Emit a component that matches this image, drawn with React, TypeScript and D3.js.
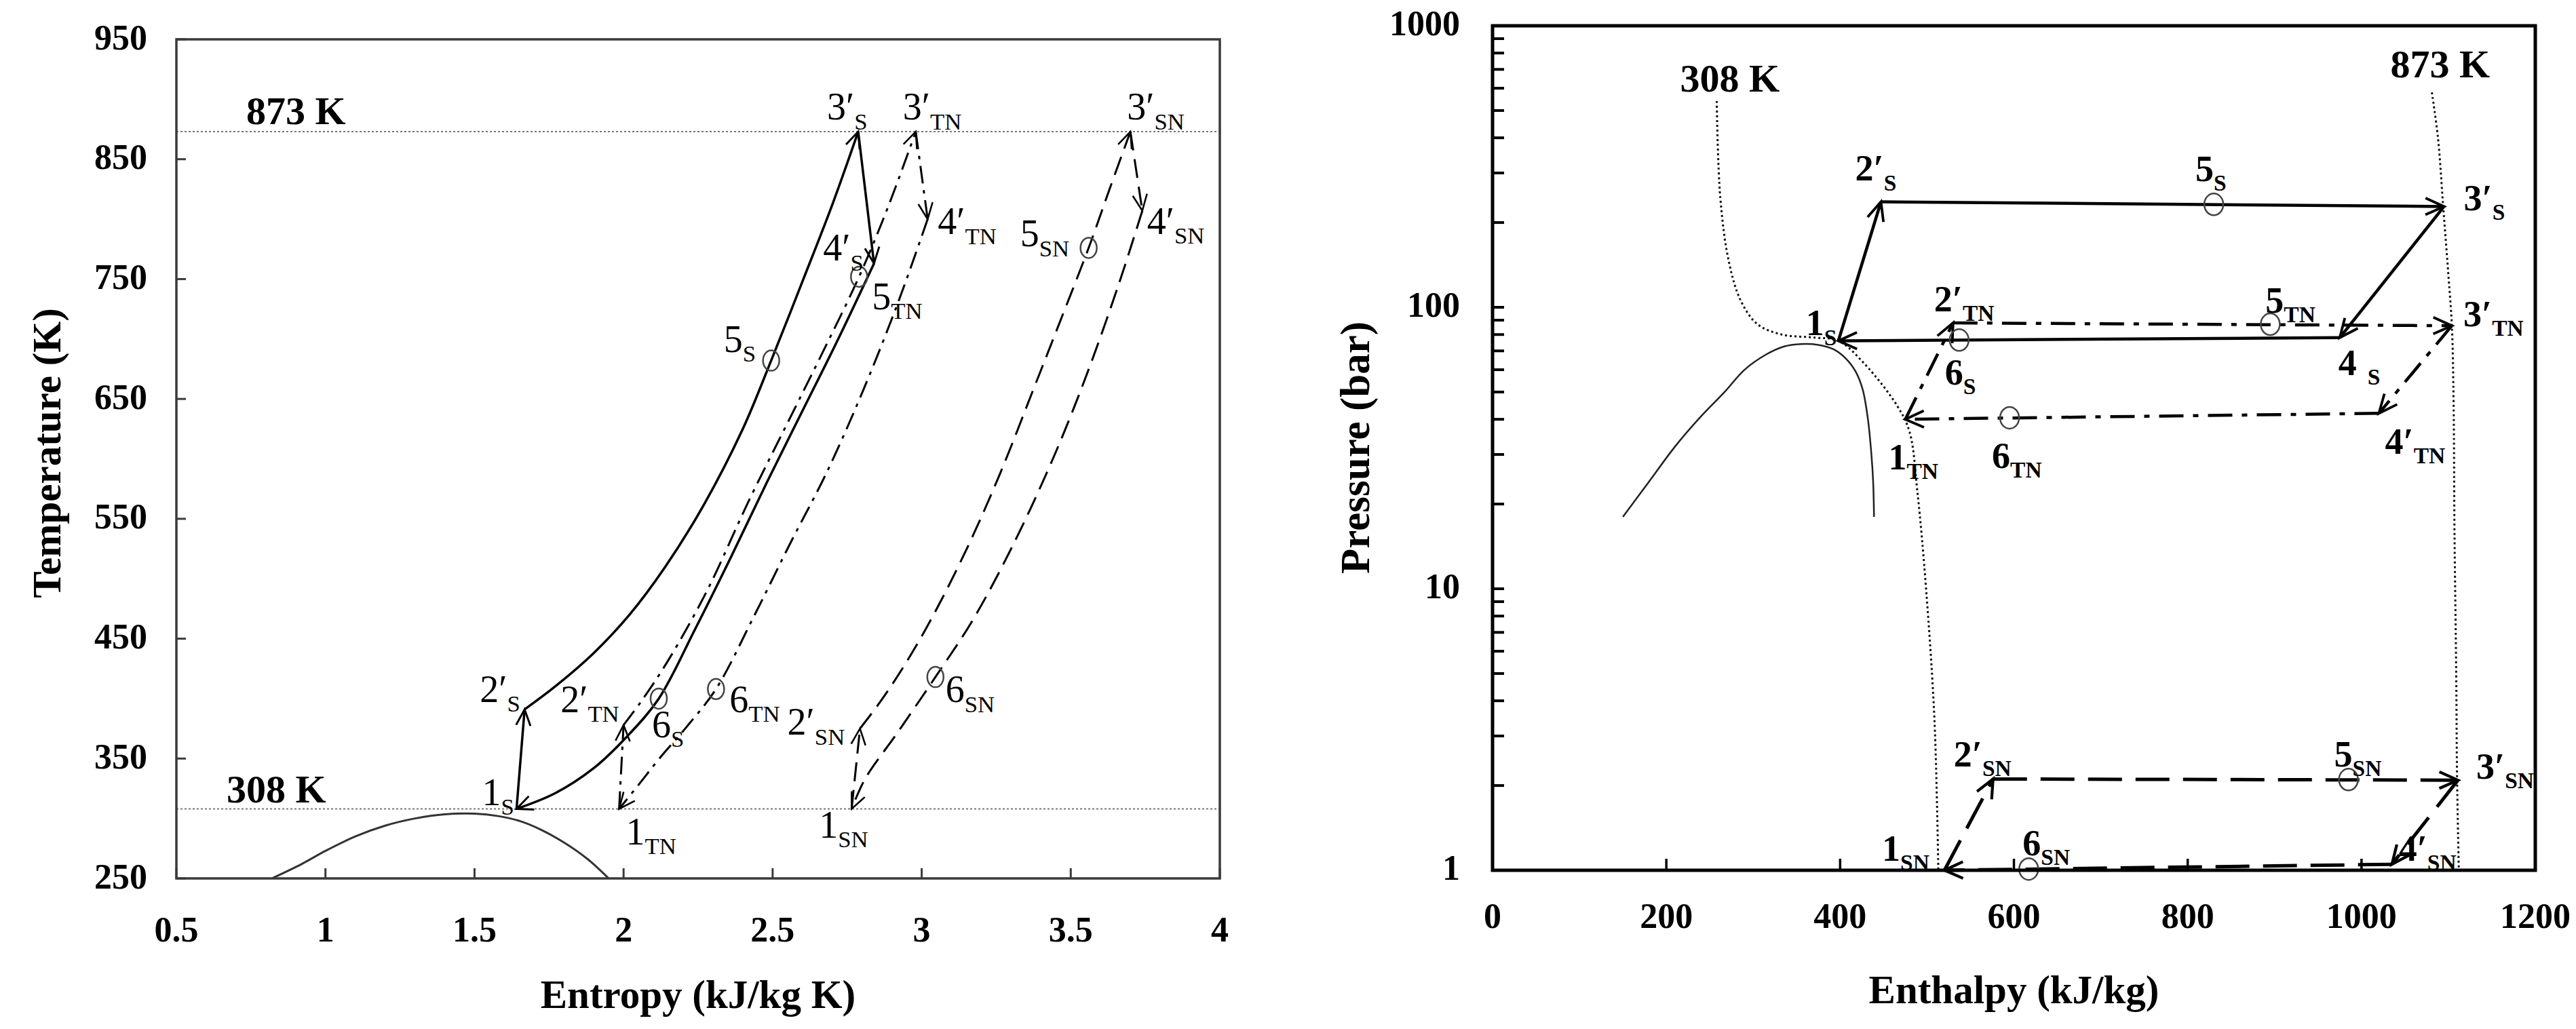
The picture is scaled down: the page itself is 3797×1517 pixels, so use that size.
import React from 'react';
import * as d3 from 'd3';

type Pt = [number, number];

// ---------- T-s diagram (left) ----------
const tsXTicks = [0.5, 1, 1.5, 2, 2.5, 3, 3.5, 4];
const tsYTicks = [250, 350, 450, 550, 650, 750, 850, 950];
const tsIsotherms = [873, 308];

// saturation dome
const tsDome: Pt[] = [
  [0.82, 250], [0.92, 262], [1.0, 273], [1.1, 285], [1.2, 294], [1.3, 300], [1.4, 303.5],
  [1.5, 304], [1.58, 302], [1.65, 298], [1.72, 291], [1.8, 280], [1.88, 266], [1.95, 250],
];

// S cycle (solid)
const tsS12: Pt[] = [[1.641, 308], [1.668, 391]];
const tsS23: Pt[] = [
  [1.668, 391], [1.78, 412], [1.9, 438], [2.02, 470], [2.14, 510], [2.27, 562], [2.4, 625],
  [2.495, 682], [2.6, 748], [2.7, 812], [2.787, 873],
];
const tsS34: Pt[] = [[2.787, 873], [2.84, 763]];
const tsS41: Pt[] = [
  [2.84, 763], [2.72, 700], [2.6, 640], [2.48, 580], [2.36, 518], [2.24, 458],
  [2.118, 400], [2.01, 368], [1.9, 342], [1.77, 321], [1.641, 308],
];
// TN cycle (dash-dot)
const tsTN12: Pt[] = [[1.985, 308], [2.0, 378]];
const tsTN23: Pt[] = [
  [2.0, 378], [2.06, 398], [2.15, 432], [2.28, 490], [2.42, 565], [2.55, 630],
  [2.67, 690], [2.79, 752], [2.89, 812], [2.98, 873],
];
const tsTN34: Pt[] = [[2.98, 873], [3.02, 800]];
const tsTN41: Pt[] = [
  [3.02, 800], [2.92, 730], [2.8, 655], [2.68, 588], [2.56, 530], [2.44, 470],
  [2.31, 408], [2.21, 376], [2.12, 350], [2.05, 328], [1.985, 308],
];
// SN cycle (dashed)
const tsSN12: Pt[] = [[2.765, 308], [2.793, 375]];
const tsSN23: Pt[] = [
  [2.793, 375], [2.86, 397], [2.93, 423], [3.0, 452], [3.08, 489], [3.17, 535],
  [3.27, 592], [3.37, 655], [3.46, 712], [3.56, 776], [3.63, 825], [3.7, 873],
];
const tsSN34: Pt[] = [[3.7, 873], [3.74, 807]];
const tsSN41: Pt[] = [
  [3.74, 807], [3.66, 745], [3.55, 668], [3.44, 600], [3.3, 525], [3.17, 465],
  [3.046, 418], [2.92, 372], [2.81, 333], [2.765, 308],
];
// state circles
const ts5S: Pt = [2.495, 682];
const ts6S: Pt = [2.118, 400];
const ts5TN: Pt = [2.79, 752];
const ts6TN: Pt = [2.31, 408];
const ts5SN: Pt = [3.56, 776];
const ts6SN: Pt = [3.046, 418];

// ---------- P-h diagram (right) ----------
const phXTicks = [0, 200, 400, 600, 800, 1000, 1200];
const phYTicks = [1, 10, 100, 1000];

const phDome: Pt[] = [
  [150, 18], [180, 24], [210, 32], [240, 41], [267, 50], [290, 60], [315, 68], [335, 72.5],
  [355, 74], [375, 73.5], [392, 71], [406, 66], [418, 59], [426, 51], [432, 40], [436, 30],
  [438, 24], [439, 18],
];
const ph308: Pt[] = [
  [258, 540], [262, 247], [272, 145], [286, 105], [305, 87], [333, 80], [372, 78], [398, 76],
  [428, 63], [466, 44.5], [480, 36], [489, 22], [499, 9.9], [508.6, 3.4], [513, 1.0],
];
const ph873: Pt[] = [
  [1081, 580], [1088, 400], [1094, 228], [1100, 130], [1104, 86], [1106, 45], [1107, 16],
  [1109, 5], [1110, 2.1], [1112, 1],
];

const phS12: Pt[] = [[398, 76], [447, 237]];
const phS23: Pt[] = [[447, 237], [1095, 228]];
const phS34: Pt[] = [[1095, 228], [975, 78]];
const phS41: Pt[] = [[975, 78], [398, 76]];
const phTN12: Pt[] = [[475, 40], [530, 88]];
const phTN23: Pt[] = [[530, 88], [1104, 86]];
const phTN34: Pt[] = [[1104, 86], [1020, 42]];
const phTN41: Pt[] = [[1020, 42], [475, 40]];
const phSN12: Pt[] = [[520, 1.0], [576, 2.11]];
const phSN23: Pt[] = [[576, 2.11], [1111, 2.09]];
const phSN34: Pt[] = [[1111, 2.09], [1035, 1.05]];
const phSN41: Pt[] = [[1035, 1.05], [520, 1.0]];
const ph5S: Pt = [830, 232];
const ph6S: Pt = [537, 76.5];
const ph5TN: Pt = [895, 87];
const ph6TN: Pt = [595, 40.5];
const ph5SN: Pt = [985, 2.1];
const ph6SN: Pt = [617, 1.01];

// ---------- layout ----------
const W = 3797;
const H = 1517;
const FONT = "'Liberation Serif', 'Times New Roman', Times, serif";

const tsX = d3.scaleLinear().domain([0.5, 4]).range([260, 1798]);
const tsY = d3.scaleLinear().domain([250, 950]).range([1295, 58]);
const phX = d3.scaleLinear().domain([0, 1200]).range([2200, 3737]);
const phY = d3.scaleLog().domain([1, 1000]).range([1283, 38]);

type LineStyle = { width: number; dash?: string; color?: string };

const tsSolid: LineStyle = { width: 3.5 };
const tsDashDot: LineStyle = { width: 3, dash: '26,10,5,10' };
const tsDashed: LineStyle = { width: 3, dash: '28,13' };
const phSolid: LineStyle = { width: 4.5 };
const phDashDot: LineStyle = { width: 4.5, dash: '36,14,8,14' };
const phDashed: LineStyle = { width: 5, dash: '50,20' };

function arrowPath(tip: Pt, from: Pt, len = 28, half = 0.42) {
  const a = Math.atan2(from[1] - tip[1], from[0] - tip[0]);
  const p1 = [tip[0] + len * Math.cos(a + half), tip[1] + len * Math.sin(a + half)];
  const p2 = [tip[0] + len * Math.cos(a - half), tip[1] + len * Math.sin(a - half)];
  return `M${p1[0]},${p1[1]}L${tip[0]},${tip[1]}L${p2[0]},${p2[1]}`;
}

function Segment({ pts, sx, sy, st, curved, arrow = true, arrowLen = 28 }: any) {
  const px: Pt[] = pts.map((p: Pt) => [sx(p[0]), sy(p[1])]);
  const line = d3
    .line<Pt>()
    .x((d) => d[0])
    .y((d) => d[1])
    .curve(curved ? d3.curveCatmullRom.alpha(0.5) : d3.curveLinear);
  const n = px.length;
  return (
    <g>
      <path d={line(px) || ''} fill="none" stroke={st.color || '#000'} strokeWidth={st.width}
        strokeDasharray={st.dash} />
      {arrow && (
        <path d={arrowPath(px[n - 1], px[n - 2], arrowLen)} fill="none" stroke="#000"
          strokeWidth={st.width * 0.85} strokeLinejoin="miter" />
      )}
    </g>
  );
}

function Label({ x, y, main, sub, size, bold, gap = 0 }: any) {
  return (
    <text x={x} y={y} fontFamily={FONT} fontSize={size} fontWeight={bold ? 'bold' : 'normal'} fill="#000">
      {main}
      <tspan fontSize={size * 0.62} dy={size * 0.26} dx={gap}>{sub}</tspan>
    </text>
  );
}

const tsLabels = [
  { main: '3′', sub: 'S', at: tsS34[0], dx: -46, dy: -18 },
  { main: '3′', sub: 'TN', at: tsTN34[0], dx: -19, dy: -18 },
  { main: '3′', sub: 'SN', at: tsSN34[0], dx: -5, dy: -18 },
  { main: '4′', sub: 'S', at: tsS34[1], dx: -75, dy: -4 },
  { main: '4′', sub: 'TN', at: tsTN34[1], dx: 15, dy: 22 },
  { main: '4′', sub: 'SN', at: tsSN34[1], dx: 7, dy: 34 },
  { main: '5', sub: 'S', at: ts5S, dx: -70, dy: -13 },
  { main: '5', sub: 'TN', at: ts5TN, dx: 19, dy: 48 },
  { main: '5', sub: 'SN', at: ts5SN, dx: -101, dy: -2 },
  { main: '6', sub: 'S', at: ts6S, dx: -10, dy: 57 },
  { main: '6', sub: 'TN', at: ts6TN, dx: 20, dy: 34 },
  { main: '6', sub: 'SN', at: ts6SN, dx: 15, dy: 37 },
  { main: '2′', sub: 'S', at: tsS12[1], dx: -66, dy: -11 },
  { main: '2′', sub: 'TN', at: tsTN12[1], dx: -93, dy: -19 },
  { main: '2′', sub: 'SN', at: tsSN12[1], dx: -107, dy: 9 },
  { main: '1', sub: 'S', at: tsS12[0], dx: -51, dy: -6 },
  { main: '1', sub: 'TN', at: tsTN12[0], dx: 10, dy: 52 },
  { main: '1', sub: 'SN', at: tsSN12[0], dx: -48, dy: 42 },
];

const phLabels = [
  { main: '2′', sub: 'S', at: phS12[1], dx: -38, dy: -31 },
  { main: '5', sub: 'S', at: ph5S, dx: -27, dy: -34 },
  { main: '3′', sub: 'S', at: phS23[1], dx: 29, dy: 6 },
  { main: '1', sub: 'S', at: phS12[0], dx: -48, dy: -8 },
  { main: '4', sub: 'S', at: phS34[1], dx: -2, dy: 55, gap: 16 },
  { main: '6', sub: 'S', at: ph6S, dx: -21, dy: 66 },
  { main: '2′', sub: 'TN', at: phTN12[1], dx: -28, dy: -17 },
  { main: '5', sub: 'TN', at: ph5TN, dx: -7, dy: -17 },
  { main: '3′', sub: 'TN', at: phTN23[1], dx: 17, dy: 1 },
  { main: '4′', sub: 'TN', at: phTN34[1], dx: 9, dy: 60 },
  { main: '1', sub: 'TN', at: phTN12[0], dx: -25, dy: 74 },
  { main: '6', sub: 'TN', at: ph6TN, dx: -26, dy: 74 },
  { main: '2′', sub: 'SN', at: phSN12[1], dx: -58, dy: -18 },
  { main: '5', sub: 'SN', at: ph5SN, dx: -21, dy: -19 },
  { main: '3′', sub: 'SN', at: phSN23[1], dx: 27, dy: -2 },
  { main: '4′', sub: 'SN', at: phSN34[1], dx: 10, dy: -5 },
  { main: '1', sub: 'SN', at: phSN12[0], dx: -92, dy: -14 },
  { main: '6', sub: 'SN', at: ph6SN, dx: -9, dy: -20 },
];

function TsChart() {
  const [x0, x1] = tsX.range();
  const [y0, y1] = tsY.range(); // y0 bottom, y1 top
  const dome = d3.line<Pt>().x((d) => tsX(d[0])).y((d) => tsY(d[1])).curve(d3.curveCatmullRom.alpha(0.5));
  const frame = '#3a3a3a';
  const segs = [
    { pts: tsS12, st: tsSolid }, { pts: tsS23, st: tsSolid, curved: true },
    { pts: tsS34, st: tsSolid }, { pts: tsS41, st: tsSolid, curved: true },
    { pts: tsTN12, st: tsDashDot }, { pts: tsTN23, st: tsDashDot, curved: true },
    { pts: tsTN34, st: tsDashDot }, { pts: tsTN41, st: tsDashDot, curved: true },
    { pts: tsSN12, st: tsDashed }, { pts: tsSN23, st: tsDashed, curved: true },
    { pts: tsSN34, st: tsDashed }, { pts: tsSN41, st: tsDashed, curved: true },
  ];
  return (
    <g>
      {tsIsotherms.map((t) => (
        <line key={t} x1={x0} x2={x1} y1={tsY(t)} y2={tsY(t)} stroke="#777" strokeWidth={2} strokeDasharray="3,3" />
      ))}
      <text x={x0 + 103} y={tsY(873) - 11} fontFamily={FONT} fontSize={58} fontWeight="bold">873 K</text>
      <text x={x0 + 74} y={tsY(308) - 10} fontFamily={FONT} fontSize={58} fontWeight="bold">308 K</text>
      <path d={dome(tsDome) || ''} fill="none" stroke="#333" strokeWidth={3} />
      {segs.map((s, i) => (
        <Segment key={i} pts={s.pts} sx={tsX} sy={tsY} st={s.st} curved={s.curved} arrowLen={26} />
      ))}
      {[ts5S, ts6S, ts5TN, ts6TN, ts5SN, ts6SN].map((c, i) => (
        <ellipse key={i} cx={tsX(c[0])} cy={tsY(c[1])} rx={12} ry={15} fill="none" stroke="#444" strokeWidth={2.5} />
      ))}
      {tsLabels.map((l, i) => (
        <Label key={i} x={tsX(l.at[0]) + l.dx} y={tsY(l.at[1]) + l.dy} main={l.main} sub={l.sub} size={56} />
      ))}
      {/* frame */}
      <rect x={x0} y={y1} width={x1 - x0} height={y0 - y1} fill="none" stroke={frame} strokeWidth={3.5} />
      {tsXTicks.map((t) => (
        <g key={t}>
          <line x1={tsX(t)} x2={tsX(t)} y1={y0} y2={y0 - 15} stroke={frame} strokeWidth={3} />
          <text x={tsX(t)} y={y0 + 75} textAnchor="middle" dominantBaseline="central" fontFamily={FONT}
            fontSize={52} fontWeight="bold">{t}</text>
        </g>
      ))}
      {tsYTicks.map((t) => (
        <g key={t}>
          <line x1={x0} x2={x0 + 14} y1={tsY(t)} y2={tsY(t)} stroke={frame} strokeWidth={3} />
          <text x={x0 - 43} y={tsY(t) - 3} textAnchor="end" dominantBaseline="central" fontFamily={FONT}
            fontSize={52} fontWeight="bold">{t}</text>
        </g>
      ))}
      <text x={(x0 + x1) / 2} y={1466} textAnchor="middle" dominantBaseline="central" fontFamily={FONT}
        fontSize={59} fontWeight="bold">Entropy (kJ/kg K)</text>
      <text transform={`translate(69, 668) rotate(-90)`} textAnchor="middle" dominantBaseline="central"
        fontFamily={FONT} fontSize={59} fontWeight="bold">Temperature (K)</text>
    </g>
  );
}

function PhChart() {
  const [x0, x1] = phX.range();
  const [y0, y1] = phY.range();
  const curve = d3.line<Pt>().x((d) => phX(d[0])).y((d) => phY(d[1])).curve(d3.curveCatmullRom.alpha(0.5));
  const minor: number[] = [];
  [1, 10, 100].forEach((d) => { for (let k = 2; k <= 9; k++) minor.push(d * k); });
  const segs = [
    { pts: phS12, st: phSolid }, { pts: phS23, st: phSolid }, { pts: phS34, st: phSolid }, { pts: phS41, st: phSolid },
    { pts: phTN12, st: phDashDot }, { pts: phTN23, st: phDashDot }, { pts: phTN34, st: phDashDot }, { pts: phTN41, st: phDashDot },
    { pts: phSN12, st: phDashed }, { pts: phSN23, st: phDashed }, { pts: phSN34, st: phDashed }, { pts: phSN41, st: phDashed },
  ];
  return (
    <g>
      <path d={curve(ph308) || ''} fill="none" stroke="#111" strokeWidth={3} strokeDasharray="3,4" />
      <path d={curve(ph873) || ''} fill="none" stroke="#111" strokeWidth={3} strokeDasharray="3,4" />
      <text x={phX(ph308[0][0]) - 54} y={phY(ph308[0][1]) - 14} fontFamily={FONT} fontSize={58} fontWeight="bold">308 K</text>
      <text x={phX(ph873[0][0]) - 61} y={phY(ph873[0][1]) - 22} fontFamily={FONT} fontSize={58} fontWeight="bold">873 K</text>
      <path d={curve(phDome) || ''} fill="none" stroke="#222" strokeWidth={2.5} />
      {segs.map((s, i) => (
        <Segment key={i} pts={s.pts} sx={phX} sy={phY} st={s.st} arrowLen={30} />
      ))}
      {[ph5S, ph6S, ph5TN, ph6TN, ph5SN, ph6SN].map((c, i) => (
        <ellipse key={i} cx={phX(c[0])} cy={phY(c[1])} rx={14} ry={16} fill="none" stroke="#444" strokeWidth={2.5} />
      ))}
      {phLabels.map((l: any, i) => (
        <Label key={i} x={phX(l.at[0]) + l.dx} y={phY(l.at[1]) + l.dy} main={l.main} sub={l.sub}
          size={54} bold gap={l.gap || 0} />
      ))}
      <rect x={x0} y={y1} width={x1 - x0} height={y0 - y1} fill="none" stroke="#000" strokeWidth={5} />
      {phXTicks.map((t) => (
        <g key={t}>
          <line x1={phX(t)} x2={phX(t)} y1={y0} y2={y0 - 17} stroke="#000" strokeWidth={3.5} />
          <text x={phX(t)} y={y0 + 67} textAnchor="middle" dominantBaseline="central" fontFamily={FONT}
            fontSize={52} fontWeight="bold">{t}</text>
        </g>
      ))}
      {phYTicks.map((t) => (
        <g key={t}>
          <line x1={x0} x2={x0 + 17} y1={phY(t)} y2={phY(t)} stroke="#000" strokeWidth={4} />
          <text x={x0 - 48} y={phY(t) - 4} textAnchor="end" dominantBaseline="central" fontFamily={FONT}
            fontSize={52} fontWeight="bold">{t}</text>
        </g>
      ))}
      {minor.map((t) => (
        <line key={t} x1={x0} x2={x0 + 17} y1={phY(t)} y2={phY(t)} stroke="#000" strokeWidth={4} />
      ))}
      <text x={(x0 + x1) / 2} y={1459} textAnchor="middle" dominantBaseline="central" fontFamily={FONT}
        fontSize={59} fontWeight="bold">Enthalpy (kJ/kg)</text>
      <text transform={`translate(1997, 660) rotate(-90)`} textAnchor="middle" dominantBaseline="central"
        fontFamily={FONT} fontSize={61} fontWeight="bold">Pressure (bar)</text>
    </g>
  );
}

export default function App() {
  return (
    <svg width={W} height={H} viewBox={`0 0 ${W} ${H}`}
      style={{ position: 'absolute', left: 0, top: 0, background: '#fff', display: 'block' }}>
      <rect width={W} height={H} fill="#fff" />
      <TsChart />
      <PhChart />
    </svg>
  );
}
